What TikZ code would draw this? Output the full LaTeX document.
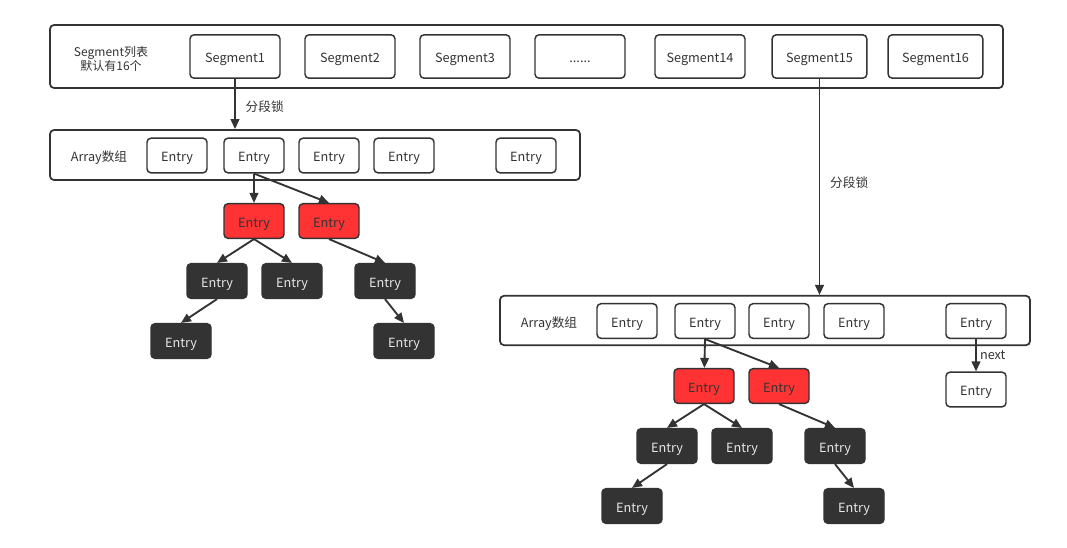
\documentclass[tikz,border=0pt]{standalone}
\usepackage{fontspec}
\setmainfont{Noto Sans CJK SC}
\usepackage{tikz}
\usetikzlibrary{positioning,arrows.meta}

\definecolor{ink}{HTML}{333333}
\definecolor{hot}{HTML}{FF3333}
\definecolor{pale}{HTML}{E6E6E6}

\begin{document}
\begin{tikzpicture}[x=0.75pt, y=-0.75pt, ->, >={Triangle[length=7.5pt,width=6.5pt]}, line width=1.4pt, draw=ink, text=ink, font=\fontsize{9.5pt}{11pt}\selectfont,
  bar/.style={draw=ink, rounded corners=3pt, line width=1.3pt, inner sep=0pt},
  seg node/.style={draw=ink, rounded corners=3pt, line width=1.1pt, minimum width=67.5pt, minimum height=32.5pt, inner sep=0pt, text height=1.9ex, text depth=0.15ex},
  entry node/.style={draw=ink, rounded corners=3pt, line width=1.1pt, minimum width=45pt, minimum height=26pt, inner sep=0pt, text height=1.9ex, text depth=0.15ex},
  red node/.style={entry node, fill=hot},
  dark node/.style={entry node, fill=ink, text=pale}]

  \useasboundingbox (0,0) rectangle (1067,547);

  % Segment list
  \node[bar, minimum width=714.75pt, minimum height=47.25pt] (segbar) at (526.5,56.5) {};
  \node[align=center, font=\fontsize{9pt}{10.5pt}\selectfont] (seglabel) at (111,59) {Segment列表\\默认有16个};
  \node[seg node] (seg1) at (235,56.5) {Segment1};
  \node[seg node] (seg2) at (350,56.5) {Segment2};
  \node[seg node] (seg3) at (465,56.5) {Segment3};
  \node[seg node] (segdots) at (580,56.5) {......};
  \node[seg node] (seg14) at (700,56.5) {Segment14};
  \node[seg node, minimum width=71pt] (seg15) at (819.5,56.5) {Segment15};
  \node[seg node, minimum width=71pt] (seg16) at (935.5,56.5) {Segment16};

  % Left array
  \node[bar, minimum width=397.5pt, minimum height=37.5pt] (arrA) at (315,155) {};
  \node[text height=1.9ex, text depth=0.15ex] (arrAlabel) at (99,155.5) {Array数组};
  \node[entry node] (a1) at (177,155.5) {Entry};
  \node[entry node] (a2) at (254,155.5) {Entry};
  \node[entry node] (a3) at (329,155.5) {Entry};
  \node[entry node] (a4) at (404,155.5) {Entry};
  \node[entry node] (a5) at (526,155.5) {Entry};

  % Left tree
  \node[red node] (ar1) at (254,221) {Entry};
  \node[red node] (ar2) at (329,221) {Entry};
  \node[dark node] (ad1) at (217,281) {Entry};
  \node[dark node] (ad2) at (292,281) {Entry};
  \node[dark node] (ad3) at (385,281) {Entry};
  \node[dark node] (ad4) at (181,341) {Entry};
  \node[dark node] (ad5) at (404,341) {Entry};

  % Right array
  \node[bar, minimum width=397.5pt, minimum height=37pt] (arrB) at (765,320.5) {};
  \node[text height=1.9ex, text depth=0.15ex] (arrBlabel) at (549,321.5) {Array数组};
  \node[entry node] (b1) at (627,321) {Entry};
  \node[entry node] (b2) at (705,321) {Entry};
  \node[entry node] (b3) at (779,321) {Entry};
  \node[entry node] (b4) at (854,321) {Entry};
  \node[entry node] (b5) at (976,321) {Entry};
  \node[entry node] (bnext) at (976,389.5) {Entry};

  % Right tree
  \node[red node] (br1) at (704,386) {Entry};
  \node[red node] (br2) at (779,386) {Entry};
  \node[dark node] (bd1) at (667,446) {Entry};
  \node[dark node] (bd2) at (742,446) {Entry};
  \node[dark node] (bd3) at (835,446) {Entry};
  \node[dark node] (bd4) at (632,506) {Entry};
  \node[dark node] (bd5) at (854,506) {Entry};

  % Define edges
  \path[->]
    (seg1) edge node[right=4pt, pos=0.55] {分段锁} (arrA.north -| seg1)
    (seg15) edge node[right=4pt, pos=0.48] {分段锁} (arrB.north -| seg15)
    (a2.south) edge (ar1)
    (a2.south) edge (ar2.north)
    (ar1.south) edge (ad1.north)
    (ar1.south) edge (ad2.north)
    (ar2.south) edge (ad3.north)
    (ad1.south) edge (ad4.north)
    (ad3.south) edge (ad5.north)
    (b2.south) edge (br1)
    (b2.south) edge (br2.north)
    (br1.south) edge (bd1.north)
    (br1.south) edge (bd2.north)
    (br2.south) edge (bd3.north)
    (bd1.south) edge (bd4.north)
    (bd3.south) edge (bd5.north)
    (b5) edge node[right=-1pt, pos=0.5] {next} (bnext);
\end{tikzpicture}
\end{document}
